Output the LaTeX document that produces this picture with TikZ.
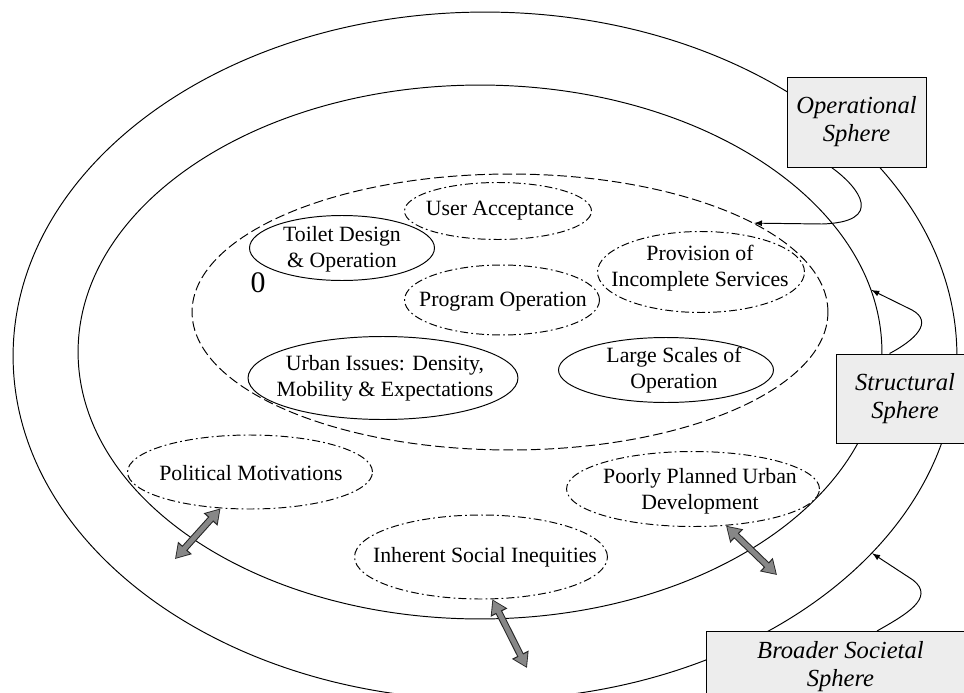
\documentclass[tikz,border=0pt]{standalone}
\usepackage{fontspec}
\setmainfont{Liberation Serif}
\usetikzlibrary{shapes.geometric,arrows.meta,calc}
\begin{document}
\begin{tikzpicture}[x=0.02cm,y=-0.02cm,line width=0.55pt,
		every path/.style={>=latex},
		oval/.style={draw,ellipse,inner sep=0pt},
		loose/.style={oval,dash pattern=on 4.5pt off 1.8pt on 1pt off 1.8pt},
		txt/.style={align=center,inner sep=0pt,font=\fontsize{12.4}{14.7}\selectfont},
		spherebox/.style={draw,rectangle,fill=black!7,inner sep=0pt,align=center,font=\fontsize{14}{16}\selectfont\itshape},
		twoway/.style={draw=black!47,line width=2.8pt,shorten <=0.9pt,shorten >=0.9pt,
			{Triangle[length=6.9pt,width=8pt]}-{Triangle[length=6.9pt,width=8pt]},
			preaction={draw=black!85,line width=4pt,shorten <=0pt,shorten >=0pt,
				{Triangle[length=8.5pt,width=10pt]}-{Triangle[length=8.5pt,width=10pt]}}}]
	\useasboundingbox (0,0) rectangle (964,693);
	\clip (0,0) rectangle (964,693);
	% the three spheres
	\node[oval,minimum width=18.88cm,minimum height=13.76cm] (outer) at (485,356) {};
	\node[oval,minimum width=16.08cm,minimum height=10.68cm] (middle) at (480,352) {};
	\node[oval,dash pattern=on 5.5pt off 2.3pt,minimum width=12.72cm,minimum height=5.52cm] (inner) at (510,312) {};
	
	% issues
	\node[loose,minimum width=3.74cm,minimum height=1.14cm] (user) at (498,211) {};
	\node[oval,minimum width=3.70cm,minimum height=1.30cm] (toilet) at (342,248) {};
	\node[loose,minimum width=4.14cm,minimum height=1.62cm] (provision) at (701,272) {};
	\node[loose,minimum width=3.90cm,minimum height=1.40cm] (program) at (502,300) {};
	\node[oval,minimum width=5.40cm,minimum height=1.66cm] (urban) at (383,378) {};
	\node[oval,minimum width=4.30cm,minimum height=1.30cm] (large) at (666,370) {};
	\node[loose,minimum width=4.90cm,minimum height=1.48cm] (political) at (250,472) {};
	\node[loose,minimum width=5.06cm,minimum height=1.68cm] (inherent) at (481,557) {};
	\node[loose,minimum width=5.06cm,minimum height=1.50cm] (poorly) at (693,489) {};
	
	\node[txt] (user-txt) at (500,211) {User Acceptance};
	\node[txt] (toilet-txt) at (342,249) {Toilet Design\\\& Operation};
	\node[txt] (provision-txt) at (700,268) {Provision of\\Incomplete Services};
	\node[txt] (program-txt) at (503,302) {Program Operation};
	\node[txt] (urban-txt) at (385,378) {Urban Issues: Density,\\Mobility \& Expectations};
	\node[txt] (large-txt) at (674,370) {Large Scales of\\Operation};
	\node[txt] (political-txt) at (251,473) {Political Motivations};
	\node[txt] (inherent-txt) at (485,557) {Inherent Social Inequities};
	\node[txt] (poorly-txt) at (700,491) {Poorly Planned Urban\\Development};
	\node[font=\fontsize{17}{17}\selectfont,inner sep=0pt] (zero) at (258,283) {0};
	
	% sphere labels
	\node[spherebox,minimum width=2.78cm,minimum height=1.8cm] (op) at (856.5,122) {Operational\\Sphere};
	\node[spherebox,minimum width=2.76cm,minimum height=1.78cm] (st) at (905,398.5) {Structural\\Sphere};
	\node[spherebox,minimum width=5.36cm,minimum height=1.4cm,anchor=north west] (bs) at (706,631) {Broader Societal\\Sphere};
	
	\draw[->] ($(op.south west)+(45,0)$) .. controls (860,188) and (885,222) .. (822,224) -- (inner.20);
	\draw[->] ($(st.north west)+(54,0)$) .. controls (915,340) and (934,322) .. (912,310) -- (middle.9);
	\draw[->] ($(bs.north west)+(171,0)$) .. controls (905,615) and (936,598) .. (913,580) -- (outer.-27.7);
	
	% links out of the spheres
	\coordinate (political-out) at (175,559);
	\coordinate (inherent-out) at (527,668);
	\coordinate (poorly-out) at (777,575);
	\draw[twoway] (political.-129) -- (political-out);
	\draw[twoway] (inherent.-75) -- (inherent-out);
	\draw[twoway] (poorly.-48) -- (poorly-out);
\end{tikzpicture}
\end{document}
